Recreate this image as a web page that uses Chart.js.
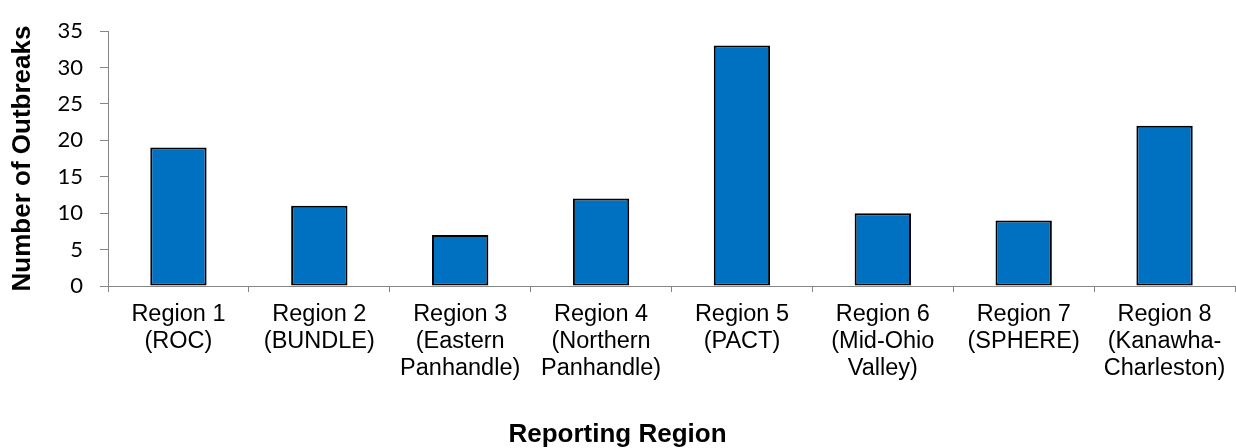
<!DOCTYPE html>
<html>
<head>
<meta charset="utf-8">
<title>Outbreaks by Reporting Region</title>
<script src="https://cdn.jsdelivr.net/npm/chart.js@4.4.1/dist/chart.umd.min.js"></script>
<style>
  html, body { margin: 0; padding: 0; background: #fff; }
  #wrap { width: 1236px; height: 448px; }
</style>
</head>
<body>
<div id="wrap"><canvas id="outbreakChart" width="1236" height="448"></canvas></div>
<script>
// region names, split over lines the way they sit under the bars
const regions = [
  ['Region 1', '(ROC)'],
  ['Region 2', '(BUNDLE)'],
  ['Region 3', '(Eastern', 'Panhandle)'],
  ['Region 4', '(Northern', 'Panhandle)'],
  ['Region 5', '(PACT)'],
  ['Region 6', '(Mid-Ohio', 'Valley)'],
  ['Region 7', '(SPHERE)'],
  ['Region 8', '(Kanawha-', 'Charleston)']
];
const outbreaks = [19, 11, 7, 12, 33, 10, 9, 22];
const yMin = 0;
const yMax = 35;
const yStep = 5;

const axisGrey = '#868686';
const labelFont = "'Liberation Sans', Arial, sans-serif";
const titleFont = { family: labelFont, size: 26, weight: 'bold', lineHeight: 1.2 };
const titlePadBottom = -2;
const titleBox = 26 * 1.2 + titlePadBottom; // height the bottom title takes from the layout

const ctx = document.getElementById('outbreakChart').getContext('2d');

new Chart(ctx, {
  type: 'bar',
  data: {
    labels: regions,
    datasets: [{
      data: outbreaks,
      backgroundColor: '#0070C0',
      borderColor: '#000000',
      borderWidth: 2,
      borderSkipped: false,
      barPercentage: 0.4,
      categoryPercentage: 1.0
    }]
  },
  options: {
    responsive: false,
    animation: false,
    layout: { padding: { top: 31, right: 1, bottom: 0, left: 0 } },
    plugins: {
      legend: { display: false },
      tooltip: { enabled: false },
      // x axis title, centred on the whole chart width
      title: {
        display: true,
        position: 'bottom',
        text: 'Reporting Region',
        color: '#000',
        font: titleFont,
        padding: { top: 0, bottom: titlePadBottom }
      }
    },
    scales: {
      x: {
        afterFit: (scale) => { scale.height = 162 - titleBox; },
        border: { color: axisGrey, width: 1 },
        grid: {
          offset: true,
          drawOnChartArea: false,
          tickLength: 6,
          color: axisGrey
        },
        ticks: {
          color: '#000',
          padding: 9,
          maxRotation: 0,
          autoSkip: false,
          font: { family: labelFont, size: 23.5, lineHeight: 1.15 }
        }
      },
      y: {
        min: yMin,
        max: yMax,
        afterFit: (scale) => { scale.width = 108; },
        border: { color: axisGrey, width: 1 },
        grid: {
          drawOnChartArea: false,
          tickLength: 8,
          color: axisGrey
        },
        ticks: {
          stepSize: yStep,
          color: '#000',
          padding: 17,
          font: { family: "Lato, 'Open Sans', sans-serif", size: 22 }
        },
        title: {
          display: true,
          text: 'Number of Outbreaks',
          color: '#000',
          font: titleFont,
          padding: { top: 7, bottom: 0 }
        }
      }
    }
  }
});
</script>
</body>
</html>
